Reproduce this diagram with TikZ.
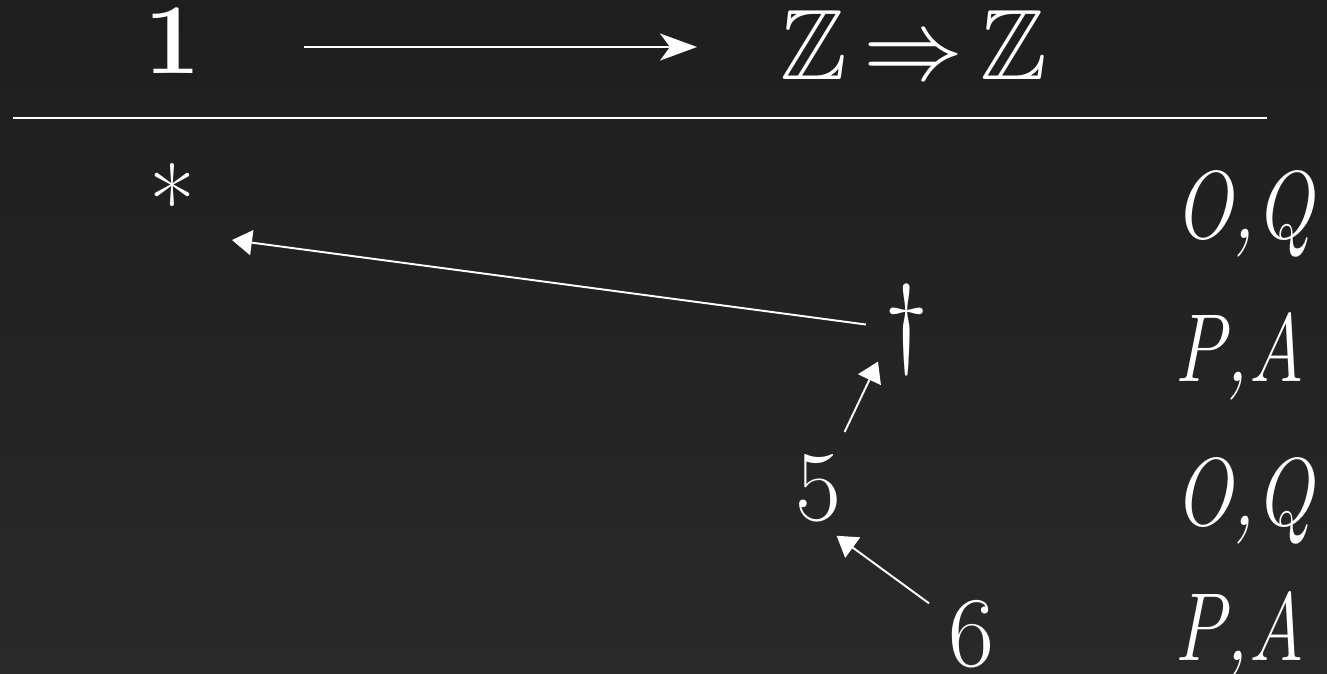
\RequirePackage{fix-cm}
\documentclass[tikz,border=0pt]{standalone}
\usepackage{amsmath,amssymb}
\usepackage{graphicx}
\usepackage{xcolor}
\usetikzlibrary{arrows.meta}
\definecolor{bgtop}{HTML}{1E1E1E}
\definecolor{bgbot}{HTML}{292929}
\newcommand{\narrow}[1]{\scalebox{0.8}[1]{#1}}

\begin{document}
\begin{tikzpicture}[x=0.02cm,y=-0.02cm,
  big/.style={text=white,inner sep=0pt,font=\fontsize{57}{64}\selectfont},
  move/.style={big,anchor=base west,font=\fontsize{55}{62}\selectfont\itshape},
  link/.style={draw=white,line width=1.1pt,-{Triangle[length=0.4cm,width=0.5cm]}}]
\shade[top color=bgtop,bottom color=bgbot] (0,0) rectangle (1327,673);
\useasboundingbox (0,0) rectangle (1327,673);
% judgement
\node[big] (one) at (173,41) {\textbf{1}};
\node[big,anchor=west] (zz) at (780,45) {$\mathbb{Z}\mskip-2mu\Rightarrow\mskip-2mu\mathbb{Z}$};
\draw[white,line width=1.1pt,-{Stealth[length=0.74cm,width=0.54cm,inset=0.2cm]},
  shorten <=2.04cm,shorten >=1.66cm] ([shift={(0,6)}]one.east) -- ([shift={(0,2)}]zz.west);
\draw[white,line width=1.1pt] (13,118) -- (1267,118);
% pointers
\node[big,text height=.75em,text depth=-.32em] (star) at (172,232) {*};
\node[big] (dag) at (907,330) {\dag};
\node[big] (five) at (818,488) {5};
\node[big] (six) at (971,634) {6};
\draw[link,shorten <=0.83cm,shorten >=1.21cm] (dag.center) -- (star.center);
\draw[link,shorten <=1.24cm,shorten >=0.7cm] (five.center) -- ([shift={(-14,0)}]dag.center);
\draw[link,shorten <=1.04cm,shorten >=0.46cm] (six.center) -- (five.south);
% players
\node[move] (m1) at (1174,238) {\narrow{O,Q}};
\node[move] (m2) at (1174,381) {\narrow{P,A}};
\node[move] (m3) at (1174,525) {\narrow{O,Q}};
\node[move] (m4) at (1174,660) {\narrow{P,A}};
\end{tikzpicture}
\end{document}
